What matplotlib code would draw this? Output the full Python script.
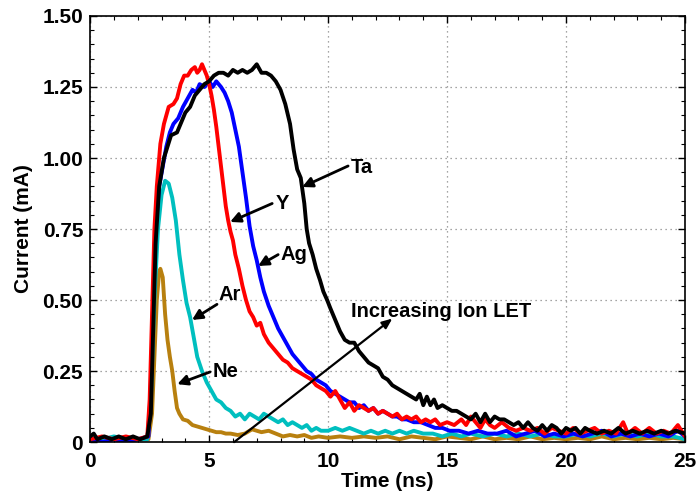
import matplotlib
matplotlib.use("Agg")
import matplotlib.pyplot as plt
from matplotlib.ticker import MultipleLocator, FuncFormatter

plt.rcParams['font.family'] = ['Liberation Sans', 'DejaVu Sans']
plt.rcParams['font.weight'] = 'bold'

# Ta
ta_t = [0, 0.15, 0.3, 0.6, 0.9, 1.2, 1.5, 1.8, 2.1, 2.4, 2.55, 2.65, 2.75, 2.9, 3.1, 3.4,
        3.65, 3.8, 4.0, 4.2, 4.4, 4.6, 4.8, 5.0, 5.2, 5.4, 5.6, 5.8, 6.0, 6.2, 6.4, 6.6,
        6.8, 7.0, 7.2, 7.4, 7.6, 7.8, 8.0, 8.2, 8.4, 8.55, 8.7, 8.85, 9.0, 9.1, 9.2, 9.35,
        9.5, 9.66, 9.8, 9.96, 10.1, 10.3, 10.5, 10.7, 10.9, 11.1, 11.3, 11.5, 11.7, 11.9, 12.1,
        12.3, 12.5, 12.7, 12.9, 13.1, 13.3, 13.5, 13.7, 13.85, 14.0, 14.15, 14.3, 14.45,
        14.6, 14.8, 15.0, 15.2, 15.4, 15.6, 15.8, 16.0, 16.2, 16.4, 16.6, 16.8, 17.0, 17.2,
        17.4, 17.6, 17.8, 18.0, 18.2, 18.4, 18.6, 18.8, 19.0, 19.2, 19.4, 19.6, 19.8, 20.0,
        20.2, 20.4, 20.6, 20.8, 21.0, 21.3, 21.6, 21.9, 22.2, 22.5, 22.8, 23.1, 23.4, 23.7,
        24.0, 24.3, 24.6, 25.0]
ta_i = [0.02, 0.03, 0.01, 0.02, 0.01, 0.02, 0.01, 0.02, 0.01, 0.02, 0.1, 0.4, 0.7, 0.9, 1.0, 1.08,
        1.09, 1.12, 1.16, 1.18, 1.22, 1.24, 1.26, 1.27, 1.29, 1.30, 1.30, 1.29, 1.31, 1.30, 1.31, 1.30,
        1.31, 1.33, 1.30, 1.30, 1.29, 1.27, 1.24, 1.19, 1.12, 1.03, 0.96, 0.93, 0.84, 0.75, 0.70, 0.66,
        0.61, 0.57, 0.53, 0.50, 0.47, 0.43, 0.39, 0.36, 0.35, 0.35, 0.32, 0.30, 0.28, 0.27, 0.26,
        0.23, 0.22, 0.20, 0.19, 0.18, 0.17, 0.16, 0.15, 0.17, 0.13, 0.16, 0.13, 0.15,
        0.12, 0.13, 0.12, 0.11, 0.11, 0.10, 0.09, 0.08, 0.10, 0.07, 0.10, 0.07, 0.09, 0.08,
        0.08, 0.07, 0.06, 0.07, 0.05, 0.07, 0.05, 0.04, 0.06, 0.04, 0.06, 0.05, 0.03, 0.05,
        0.04, 0.05, 0.03, 0.05, 0.04, 0.03, 0.04, 0.03, 0.05, 0.03, 0.04, 0.03, 0.04, 0.03,
        0.04, 0.03, 0.04, 0.03]

# Y
y_t = [0, 0.5, 1.0, 1.5, 2.0, 2.4, 2.5, 2.6, 2.7, 2.8, 2.95, 3.1, 3.3, 3.5, 3.65, 3.8, 3.95,
       4.1, 4.25, 4.4, 4.5, 4.6, 4.7, 4.8, 4.9, 5.0, 5.1, 5.2, 5.3, 5.4, 5.5, 5.6, 5.7, 5.8,
       5.9, 6.0, 6.1, 6.25, 6.4, 6.55, 6.7, 6.85, 7.0, 7.15, 7.3, 7.5, 7.7, 7.9, 8.1, 8.3,
       8.5, 8.7, 8.9, 9.1, 9.3, 9.5, 9.7, 9.9, 10.1, 10.3, 10.5, 10.7, 10.9, 11.1, 11.3,
       11.5, 11.7, 11.9, 12.1, 12.3, 12.5, 12.7, 12.9, 13.1, 13.3, 13.5, 13.7, 13.9, 14.1,
       14.3, 14.5, 14.7, 15.0, 15.3, 15.6, 15.8, 16.0, 16.2, 16.4, 16.6, 16.8, 17.0, 17.3,
       17.6, 17.9, 18.2, 18.5, 18.8, 19.1, 19.4, 19.7, 20.0, 20.3, 20.6, 20.9, 21.2, 21.5,
       21.8, 22.1, 22.4, 22.6, 22.9, 23.2, 23.5, 23.8, 24.1, 24.4, 24.7, 25.0]
y_i = [0.01, 0.02, 0.01, 0.02, 0.01, 0.02, 0.15, 0.45, 0.75, 0.9, 1.05, 1.12, 1.18, 1.19, 1.21, 1.26, 1.29,
       1.29, 1.31, 1.32, 1.30, 1.31, 1.33, 1.31, 1.29, 1.26, 1.22, 1.17, 1.11, 1.04, 0.97, 0.90, 0.83, 0.78,
       0.74, 0.71, 0.66, 0.61, 0.55, 0.50, 0.46, 0.44, 0.41, 0.42, 0.38, 0.35, 0.33, 0.31, 0.29, 0.28,
       0.26, 0.25, 0.24, 0.23, 0.22, 0.20, 0.19, 0.18, 0.16, 0.18, 0.15, 0.12, 0.14, 0.11, 0.13,
       0.12, 0.11, 0.12, 0.10, 0.11, 0.10, 0.09, 0.10, 0.08, 0.09, 0.08, 0.09, 0.07, 0.08,
       0.07, 0.08, 0.06, 0.07, 0.06, 0.08, 0.06, 0.09, 0.07, 0.05, 0.08, 0.06, 0.05, 0.07,
       0.05, 0.04, 0.05, 0.04, 0.05, 0.03, 0.05, 0.04, 0.03, 0.05, 0.03, 0.04, 0.05, 0.03,
       0.04, 0.03, 0.07, 0.03, 0.05, 0.03, 0.05, 0.03, 0.04, 0.03, 0.06, 0.02]

# Ag
ag_t = [0, 0.5, 1.0, 1.5, 2.0, 2.45, 2.55, 2.65, 2.75, 2.9, 3.05, 3.2, 3.35, 3.5, 3.7, 3.9,
        4.1, 4.3, 4.45, 4.6, 4.8, 5.0, 5.15, 5.3, 5.5, 5.65, 5.8, 5.95, 6.1, 6.25, 6.4, 6.55,
        6.7, 6.85, 7.0, 7.15, 7.3, 7.5, 7.7, 7.9, 8.1, 8.3, 8.5, 8.7, 8.9, 9.1, 9.3, 9.5,
        9.7, 9.9, 10.1, 10.3, 10.5, 10.7, 10.9, 11.1, 11.3, 11.5, 11.7, 11.9, 12.1, 12.3,
        12.5, 12.7, 12.9, 13.1, 13.3, 13.6, 13.9, 14.2, 14.5, 14.8, 15.1, 15.5, 15.9, 16.3,
        16.7, 17.1, 17.5, 17.9, 18.3, 18.7, 19.1, 19.5, 19.9, 20.3, 20.7, 21.1, 21.5, 21.9,
        22.3, 22.7, 23.1, 23.5, 23.9, 24.3, 24.7, 25.0]
ag_i = [0.01, 0.0, 0.01, 0.0, 0.01, 0.02, 0.2, 0.5, 0.75, 0.9, 0.97, 1.04, 1.09, 1.12, 1.14, 1.18,
        1.21, 1.24, 1.23, 1.26, 1.25, 1.27, 1.25, 1.27, 1.25, 1.23, 1.20, 1.16, 1.10, 1.04, 0.95, 0.86,
        0.76, 0.69, 0.64, 0.58, 0.53, 0.48, 0.44, 0.40, 0.37, 0.34, 0.31, 0.29, 0.27, 0.25, 0.24, 0.22,
        0.21, 0.20, 0.18, 0.17, 0.16, 0.15, 0.14, 0.14, 0.12, 0.13, 0.11, 0.12, 0.10, 0.11,
        0.10, 0.09, 0.09, 0.08, 0.08, 0.07, 0.07, 0.06, 0.05, 0.05, 0.04, 0.04, 0.03, 0.04,
        0.03, 0.03, 0.04, 0.02, 0.03, 0.04, 0.02, 0.03, 0.02, 0.03, 0.02, 0.03, 0.04, 0.02,
        0.03, 0.02, 0.03, 0.02, 0.03, 0.02, 0.04, 0.02]

# Ar
ar_t = [0, 0.5, 1.0, 1.5, 2.0, 2.4, 2.55, 2.7, 2.85, 3.0, 3.15, 3.3, 3.45, 3.6, 3.75, 3.9,
        4.05, 4.2, 4.35, 4.5, 4.7, 4.9, 5.1, 5.3, 5.5, 5.7, 5.9, 6.1, 6.3, 6.5, 6.7, 6.9,
        7.1, 7.3, 7.5, 7.7, 7.9, 8.1, 8.3, 8.5, 8.7, 8.9, 9.1, 9.3, 9.5, 9.7, 10.0, 10.3,
        10.6, 10.9, 11.2, 11.5, 11.8, 12.1, 12.4, 12.7, 13.0, 13.3, 13.6, 14.0, 14.4, 14.8,
        15.2, 15.6, 16.0, 16.5, 17.0, 17.5, 18.0, 18.5, 19.0, 19.5, 20.0, 20.5, 21.0, 21.5,
        22.0, 22.5, 23.0, 23.5, 24.0, 24.5, 25.0]
ar_i = [0.0, 0.01, 0.02, 0.01, 0.01, 0.01, 0.15, 0.5, 0.75, 0.87, 0.92, 0.91, 0.86, 0.78, 0.66, 0.57,
        0.49, 0.44, 0.37, 0.30, 0.25, 0.21, 0.18, 0.15, 0.14, 0.12, 0.11, 0.09, 0.10, 0.08, 0.10, 0.09,
        0.08, 0.10, 0.09, 0.08, 0.07, 0.08, 0.06, 0.07, 0.06, 0.05, 0.06, 0.04, 0.05, 0.04, 0.04, 0.05,
        0.04, 0.05, 0.04, 0.03, 0.04, 0.03, 0.04, 0.03, 0.04, 0.03, 0.04, 0.03, 0.03, 0.02,
        0.03, 0.02, 0.03, 0.02, 0.03, 0.02, 0.03, 0.02, 0.03, 0.02, 0.02, 0.03, 0.02, 0.03,
        0.02, 0.03, 0.02, 0.03, 0.02, 0.02, 0.01]

# Ne
ne_t = [0, 0.5, 1.0, 1.5, 2.0, 2.45, 2.6, 2.7, 2.8, 2.9, 2.95, 3.05, 3.15, 3.25, 3.35, 3.45,
        3.55, 3.65, 3.75, 3.9, 4.1, 4.3, 4.5, 4.7, 4.9, 5.1, 5.3, 5.5, 5.7, 5.9, 6.2, 6.5,
        6.8, 7.0, 7.2, 7.5, 7.8, 8.1, 8.4, 8.7, 9.0, 9.3, 9.6, 10.0, 10.5, 11.0, 11.5, 12.0,
        12.5, 13.0, 13.5, 14.0, 14.5, 15.0, 15.5, 16.0, 16.5, 17.0, 17.5, 18.0, 18.5, 19.0,
        19.5, 20.0, 20.5, 21.0, 21.5, 22.0, 22.5, 23.0, 23.5, 24.0, 24.5, 25.0]
ne_i = [0.005, 0.01, 0.015, 0.005, 0.01, 0.01, 0.1, 0.3, 0.5, 0.6, 0.61, 0.58, 0.45, 0.36, 0.30, 0.25,
        0.18, 0.12, 0.10, 0.08, 0.075, 0.06, 0.055, 0.05, 0.045, 0.04, 0.035, 0.035, 0.03, 0.03, 0.025, 0.03,
        0.045, 0.04, 0.035, 0.04, 0.03, 0.02, 0.025, 0.02, 0.025, 0.015, 0.02, 0.015, 0.02, 0.015, 0.02, 0.015,
        0.02, 0.01, 0.02, 0.015, 0.01, 0.02, 0.015, 0.01, 0.02, 0.01, 0.015, 0.01, 0.02, 0.01,
        0.015, 0.01, 0.015, 0.01, 0.02, 0.01, 0.015, 0.01, 0.015, 0.01, 0.015, 0.01]

# label text position, arrow tail, arrow head
labels = [
    ("Ta", (10.95, 0.965), (10.84, 0.972), (8.91, 0.898)),
    ("Y", (7.8, 0.84), (7.65, 0.84), (5.88, 0.775)),
    ("Ag", (7.98, 0.66), (7.9, 0.66), (7.06, 0.62)),
    ("Ar", (5.38, 0.52), (5.33, 0.485), (4.28, 0.43)),
    ("Ne", (5.13, 0.247), (5.04, 0.247), (3.66, 0.204)),
]

fig = plt.figure(figsize=(6.99, 4.99), dpi=100)
ax = fig.add_axes([0.129, 0.114, 0.851, 0.854])

lw = 2.8
ax.plot(ne_t, ne_i, color='#B8800F', lw=lw)
ax.plot(ar_t, ar_i, color='#00BFBF', lw=lw)
ax.plot(ag_t, ag_i, color='#0000FF', lw=lw)
ax.plot(y_t, y_i, color='#FF0000', lw=lw)
ax.plot(ta_t, ta_i, color='black', lw=lw)

for name, txt, tail, head in labels:
    ax.text(txt[0], txt[1], name, fontsize=14.5, fontweight='bold', ha='left', va='center')
    ax.annotate('', xy=head, xytext=tail,
                arrowprops=dict(arrowstyle='-|>,head_length=0.6,head_width=0.3',
                                color='black', lw=2, shrinkA=0, shrinkB=0))

ax.annotate('', xy=(12.7, 0.435), xytext=(6.05, 0.0),
            arrowprops=dict(arrowstyle='-|>,head_length=0.6,head_width=0.25',
                            color='black', lw=1.6, shrinkA=0, shrinkB=0))
ax.text(10.95, 0.46, 'Increasing Ion LET', fontsize=14.5, fontweight='bold',
        ha='left', va='center')

ax.set_xlim(0, 25)
ax.set_ylim(0, 1.5)
ax.xaxis.set_major_locator(MultipleLocator(5))
ax.xaxis.set_minor_locator(MultipleLocator(1))
ax.yaxis.set_major_locator(MultipleLocator(0.25))
ax.yaxis.set_minor_locator(MultipleLocator(0.05))
ax.yaxis.set_major_formatter(FuncFormatter(lambda v, p: '0' if v == 0 else '%.2f' % v))
ax.tick_params(which='both', direction='in', top=True, right=True, labelsize=15)
ax.tick_params(which='major', length=5, width=1)
ax.tick_params(which='minor', length=3, width=0.8)
ax.tick_params(axis='x', which='major', pad=7)
ax.tick_params(axis='y', which='major', pad=5)
ax.grid(True, which='major', linestyle=(0, (1, 3)), color='#888888', lw=0.9)
for lab in ax.get_xticklabels() + ax.get_yticklabels():
    lab.set_fontweight('bold')
for s in ax.spines.values():
    s.set_linewidth(1.2)

ax.set_xlabel('Time (ns)', fontsize=15, fontweight='bold', labelpad=1)
ax.set_ylabel('Current (mA)', fontsize=15, fontweight='bold', labelpad=7)

fig.savefig('out.png', dpi=100)
